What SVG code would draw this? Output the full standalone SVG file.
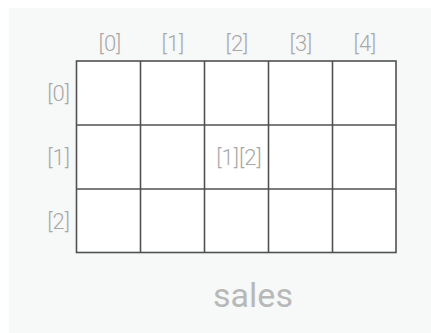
<svg xmlns="http://www.w3.org/2000/svg" width="431" height="333" viewBox="0 0 431 333">
<style>
.lbl{font-family:Roboto,"Liberation Sans",sans-serif;font-weight:300;font-size:22px;fill:#a8a8a8}
.cell{fill:#ffffff;stroke:#505050;stroke-width:1.6}
.title{font-family:Roboto,"Liberation Sans",sans-serif;font-size:34px;fill:#b8b8b8}
</style>
<rect x="0" y="0" width="431" height="333" fill="#ffffff"/>
<rect x="9" y="8" width="422" height="325" fill="#f7f8f8"/>
<g id="grid">
<rect class="cell" x="76.5" y="61" width="319.5" height="191.5"/>
</g>
<g id="connectors" fill="none" stroke="#505050" stroke-width="1.6">
<line x1="140.5" y1="61" x2="140.5" y2="252.5"/>
<line x1="204.5" y1="61" x2="204.5" y2="252.5"/>
<line x1="268.5" y1="61" x2="268.5" y2="252.5"/>
<line x1="332.5" y1="61" x2="332.5" y2="252.5"/>
<line x1="76.5" y1="125" x2="396" y2="125"/>
<line x1="76.5" y1="189" x2="396" y2="189"/>
</g>
<g id="col-labels" class="lbl" text-anchor="middle">
<text x="110" y="51">[0]</text>
<text x="173" y="51">[1]</text>
<text x="237" y="51">[2]</text>
<text x="301" y="51">[3]</text>
<text x="365" y="51">[4]</text>
</g>
<g id="row-labels" class="lbl" text-anchor="end">
<text x="70" y="101">[0]</text>
<text x="70" y="165">[1]</text>
<text x="70" y="229">[2]</text>
</g>
<g id="cell-1-2"><text class="lbl" x="239" y="165" text-anchor="middle">[1][2]</text></g>
<g id="title"><text class="title" x="253" y="307" text-anchor="middle">sales</text></g>
</svg>
